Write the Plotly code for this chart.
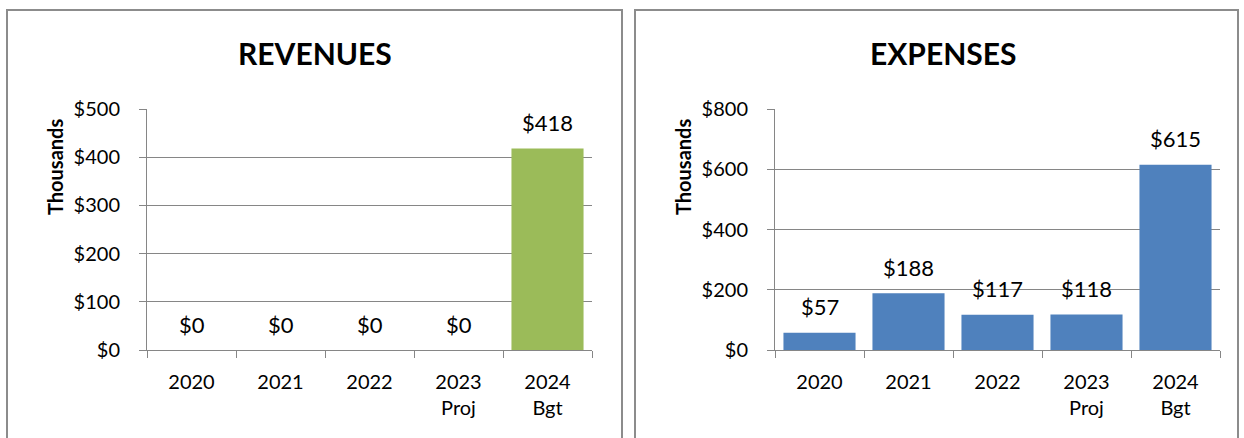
import plotly.graph_objects as go

# Fiscal years shown on both charts
years = ["2020", "2021", "2022", "2023<br>Proj", "2024<br>Bgt"]

# Values in thousands of dollars
revenues = [0, 0, 0, 0, 418]
expenses = [57, 188, 117, 118, 615]

rev_ticks = [0, 100, 200, 300, 400, 500]
exp_ticks = [0, 200, 400, 600, 800]

W, H = 1244, 438
FONT = "Lato"
GRID = "#868686"
BORDER = "#8c8c8c"

pos = list(range(len(years)))
bounds = [p - 0.5 for p in pos] + [pos[-1] + 0.5]


def px_x(v):
    return v / W


def px_y(v):
    return 1 - v / H


def money(v):
    return f"${v:,}"


fig = go.Figure()

fig.add_trace(go.Bar(x=pos, y=revenues, marker_color="#9BBB59", marker_line_width=0,
                     xaxis="x", yaxis="y", showlegend=False))
fig.add_trace(go.Bar(x=pos, y=expenses, marker_color="#4F81BD", marker_line_width=0,
                     xaxis="x2", yaxis="y2", showlegend=False))

annotations = []
# value labels above each bar
for xa, ya, vals in (("x", "y", revenues), ("x2", "y2", expenses)):
    for p, v in zip(pos, vals):
        annotations.append(dict(x=p, y=v, xref=xa, yref=ya, text=money(v),
                                showarrow=False, yanchor="middle", yshift=26,
                                font=dict(family=FONT, size=22, color="#000")))

# chart titles and axis titles
for cx, title in ((315, "REVENUES"), (943, "EXPENSES")):
    annotations.append(dict(x=px_x(cx), y=px_y(53), xref="paper", yref="paper",
                            text=f"<b>{title}</b>", showarrow=False,
                            xanchor="center", yanchor="middle",
                            font=dict(family=FONT, size=30, color="#000")))
for cx in (55, 683):
    annotations.append(dict(x=px_x(cx), y=px_y(167), xref="paper", yref="paper",
                            text="<b>Thousands</b>", showarrow=False, textangle=-90,
                            xanchor="center", yanchor="middle",
                            font=dict(family=FONT, size=20, color="#000")))

# panel frames (open at the bottom edge)
shapes = []
for x0, x1 in ((7, 622), (635, 1238)):
    shapes.append(dict(type="rect", xref="paper", yref="paper",
                       x0=px_x(x0), x1=px_x(x1), y0=-0.2, y1=px_y(10),
                       line=dict(color=BORDER, width=2), fillcolor="rgba(0,0,0,0)",
                       layer="below"))


def xaxis_cfg(dom, anchor):
    return dict(domain=dom, anchor=anchor, range=[-0.5, len(years) - 0.5],
                automargin=False,
                tickmode="array", tickvals=pos, ticktext=years, ticks="",
                tickangle=0, ticklabelstandoff=14,
                showline=True, linecolor=GRID, linewidth=1,
                showgrid=False, zeroline=False, fixedrange=True,
                tickfont=dict(family=FONT, size=20, color="#000"),
                minor=dict(tickmode="array", tickvals=bounds, ticks="outside",
                           ticklen=7, tickcolor=GRID, showgrid=False))


def yaxis_cfg(dom, anchor, ticks):
    top = ticks[-1]
    return dict(domain=dom, anchor=anchor, range=[0, top], tickmode="array",
                automargin=False,
                tickvals=ticks, ticktext=[money(t) for t in ticks],
                ticklabelstandoff=15,
                showline=True, linecolor=GRID, linewidth=1, ticks="outside",
                ticklen=7, tickcolor=GRID, showgrid=True, gridcolor=GRID,
                gridwidth=1, zeroline=False, fixedrange=True,
                tickfont=dict(family=FONT, size=20, color="#000"))


ydom = [px_y(350), px_y(109)]

fig.update_layout(
    width=W, height=H,
    margin=dict(l=0, r=0, t=0, b=0, pad=0),
    paper_bgcolor="white", plot_bgcolor="white",
    bargap=0.19,
    xaxis=xaxis_cfg([px_x(147), px_x(592)], "y"),
    yaxis=yaxis_cfg(ydom, "x", rev_ticks),
    xaxis2=xaxis_cfg([px_x(775), px_x(1220)], "y2"),
    yaxis2=yaxis_cfg(ydom, "x2", exp_ticks),
    annotations=annotations,
    shapes=shapes,
)

fig.write_html("out.html")
